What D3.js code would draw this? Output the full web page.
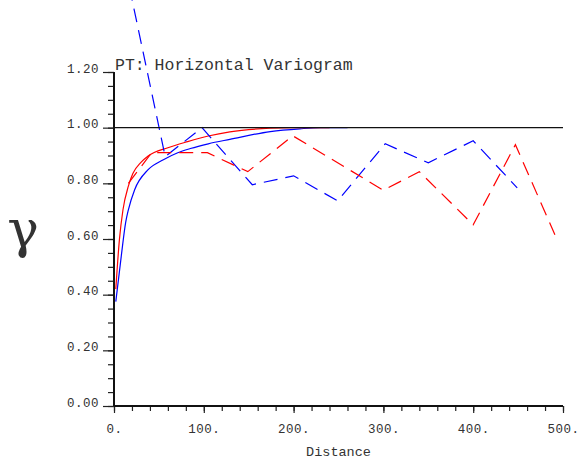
<!DOCTYPE html>
<html>
<head>
<meta charset="utf-8">
<script src="https://cdn.jsdelivr.net/npm/d3@7"></script>
<style>
  body { margin: 0; background: #fff; }
  svg { display: block; }
  text { font-family: "Liberation Mono", "DejaVu Sans Mono", monospace; fill: #333; }
</style>
</head>
<body>
<svg id="chart" width="579" height="468"></svg>
<script>
// experimental variogram points (lag distance, gamma)
const blueLag   = [7, 57, 98, 154, 200, 249, 302, 350, 400, 449];
const blueGamma = [1.66, 0.896, 1.0, 0.795, 0.827, 0.737, 0.942, 0.874, 0.953, 0.784];
const redLag    = [16, 42, 104, 149, 199, 300, 340, 400, 447, 491];
const redGamma  = [0.80, 0.91, 0.91, 0.842, 0.971, 0.775, 0.842, 0.651, 0.939, 0.615];

// fitted model curves
const redModelLag    = [2, 6, 10, 16, 21, 30, 38, 60, 82, 105, 129, 174, 200, 240];
const redModelGamma  = [0.42, 0.597, 0.705, 0.79, 0.835, 0.875, 0.898, 0.928, 0.95, 0.97, 0.985, 0.998, 1.0, 1.0];
const blueModelLag   = [2, 8, 13, 16, 23, 38, 55, 71, 85, 105, 129, 174, 207, 230, 260];
const blueModelGamma = [0.375, 0.536, 0.66, 0.705, 0.777, 0.849, 0.885, 0.91, 0.925, 0.942, 0.958, 0.986, 0.996, 1.0, 1.0];

const sill = 1.0;
const xMajor = [0, 100, 200, 300, 400, 500];
const yMajor = [0, 0.2, 0.4, 0.6, 0.8, 1.0, 1.2];

const svg = d3.select("#chart");

const x = d3.scaleLinear().domain([0, 500]).range([114, 563]);
const y = d3.scaleLinear().domain([0, 1.2]).range([406, 72]);

const zip = (a, b) => a.map((d, i) => [d, b[i]]);

const line = d3.line().x(d => x(d[0])).y(d => y(d[1]));
const smooth = d3.line().x(d => x(d[0])).y(d => y(d[1])).curve(d3.curveMonotoneX);

// y axis ticks
const yMinor = d3.range(0, 1.2001, 0.05);
const yAxisG = svg.append("g").attr("transform", "translate(114,0)");
yAxisG.call(d3.axisLeft(y).tickValues(yMinor).tickSize(6).tickFormat(""));
yAxisG.call(g => g.select(".domain").remove());
const yMajG = svg.append("g").attr("transform", "translate(114,0)");
yMajG.call(d3.axisLeft(y).tickValues(yMajor).tickSize(11).tickPadding(4).tickFormat(d3.format(".2f")));
yMajG.call(g => g.select(".domain").remove());
yMajG.selectAll("text").attr("dy", "0").style("font-size", "12.5px").style("letter-spacing", "0.5px")
  .style("font-family", "'Liberation Mono', monospace").attr("fill", "#3a3a3a");

// x axis ticks
const xMinor = d3.range(0, 501, 20);
const xAxisG = svg.append("g").attr("transform", "translate(0,406)");
xAxisG.call(d3.axisBottom(x).tickValues(xMinor).tickSize(5).tickFormat(""));
xAxisG.call(g => g.select(".domain").remove());
const xMajG = svg.append("g").attr("transform", "translate(0,406)");
xMajG.call(d3.axisBottom(x).tickValues(xMajor).tickSize(7).tickPadding(11).tickFormat(d => d + "."));
xMajG.call(g => g.select(".domain").remove());
xMajG.selectAll("text").style("font-size", "12.5px").style("letter-spacing", "0.5px")
  .style("font-family", "'Liberation Mono', monospace").attr("fill", "#3a3a3a");

svg.selectAll(".tick line").attr("stroke", "#222").attr("stroke-width", 1.2);

// axis lines
svg.append("line").attr("x1", x(0)).attr("x2", x(0)).attr("y1", y(1.2)).attr("y2", y(0))
  .attr("stroke", "#111").attr("stroke-width", 2);
svg.append("line").attr("x1", x(0)).attr("x2", x(500)).attr("y1", y(0)).attr("y2", y(0))
  .attr("stroke", "#111").attr("stroke-width", 2);

// model curves
svg.append("path").datum(zip(blueModelLag, blueModelGamma))
  .attr("d", smooth).attr("fill", "none").attr("stroke", "#0000ff").attr("stroke-width", 1.2);
svg.append("path").datum(zip(redModelLag, redModelGamma))
  .attr("d", smooth).attr("fill", "none").attr("stroke", "#ff0000").attr("stroke-width", 1.2);

// experimental variograms
svg.append("path").datum(zip(blueLag, blueGamma))
  .attr("d", line).attr("fill", "none").attr("stroke", "#0000ff").attr("stroke-width", 1.2)
  .attr("stroke-dasharray", "14,8");
svg.append("path").datum(zip(redLag, redGamma))
  .attr("d", line).attr("fill", "none").attr("stroke", "#ff0000").attr("stroke-width", 1.2)
  .attr("stroke-dasharray", "14,8");

// sill line
svg.append("line").attr("x1", x(0)).attr("x2", x(500)).attr("y1", y(sill)).attr("y2", y(sill))
  .attr("stroke", "#111").attr("stroke-width", 1.3);

// title and labels
svg.append("text").attr("x", 115).attr("y", 70)
  .style("font-size", "16.5px").text("PT: Horizontal Variogram");

svg.append("text").attr("x", (x(0) + x(500)) / 2).attr("y", 456).attr("text-anchor", "middle")
  .style("font-size", "13.5px").text("Distance");

svg.append("text").attr("x", 23).attr("y", 247).attr("text-anchor", "middle")
  .style("font-family", "'DejaVu Serif', serif").style("font-size", "53px").attr("fill", "#000")
  .text("γ");
</script>
</body>
</html>
